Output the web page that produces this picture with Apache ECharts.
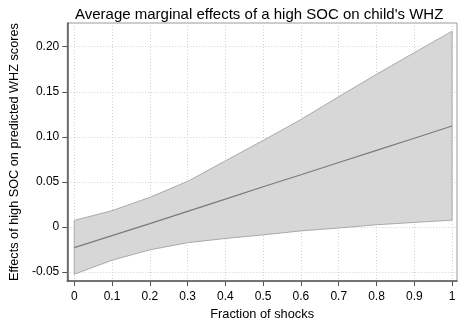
<!DOCTYPE html>
<html>
<head>
<meta charset="utf-8">
<script src="https://cdn.jsdelivr.net/npm/echarts@6/dist/echarts.min.js"></script>
<style>html,body{margin:0;padding:0;background:#fff;}#c{width:465px;height:326px;}</style>
</head>
<body>
<div id="c"></div>
<script>
const fractions = [0, 0.1, 0.2, 0.3, 0.4, 0.5, 0.6, 0.7, 0.8, 0.9, 1];
const effect = [-0.0228, -0.0096, 0.0037, 0.0174, 0.0310, 0.0446, 0.0580, 0.0716, 0.0850, 0.0985, 0.1120];
const upperCI = [0.0073, 0.0181, 0.0329, 0.0506, 0.0734, 0.0960, 0.1193, 0.1445, 0.1694, 0.1934, 0.2172];
const lowerCI = [-0.0524, -0.0369, -0.0253, -0.0174, -0.0127, -0.0087, -0.0043, -0.0011, 0.0025, 0.0051, 0.0076];
const xTicks = [0, 0.1, 0.2, 0.3, 0.4, 0.5, 0.6, 0.7, 0.8, 0.9, 1];
const xTickLabels = ['0', '0.1', '0.2', '0.3', '0.4', '0.5', '0.6', '0.7', '0.8', '0.9', '1'];
const yTicks = [-0.05, 0, 0.05, 0.10, 0.15, 0.20];
const yTickLabels = ['-0.05', '0', '0.05', '0.10', '0.15', '0.20'];

const FONT = 'Liberation Sans, Arial, sans-serif';
const chart = echarts.init(document.getElementById('c'), null, {renderer: 'canvas'});

function labelFor(ticks, labels) {
  return function (v) {
    for (let i = 0; i < ticks.length; i++) {
      if (Math.abs(ticks[i] - v) < 1e-9) return labels[i];
    }
    return '';
  };
}

const bandData = fractions.map((x, i) => [x, lowerCI[i], upperCI[i]]);

chart.setOption({
  animation: false,
  title: {
    text: "Average marginal effects of a high SOC on child's WHZ",
    left: 70, top: 2,
    textStyle: {fontFamily: FONT, fontSize: 15, fontWeight: 'normal', color: '#000'}
  },
  grid: {
    left: 67, right: 8, top: 23, bottom: 39,
    show: true, borderColor: '#9a9a9a', borderWidth: 1, backgroundColor: 'transparent'
  },
  xAxis: {
    type: 'value',
    min: -0.0185, max: 1.013,
    name: 'Fraction of shocks',
    nameLocation: 'middle', nameGap: 22,
    nameTextStyle: {fontFamily: FONT, fontSize: 12.8, color: '#000'},
    axisLine: {show: true, onZero: false, lineStyle: {color: '#555', width: 1.5}},
    axisTick: {show: true, length: 5, customValues: xTicks, lineStyle: {color: '#555'}},
    axisLabel: {customValues: xTicks, formatter: labelFor(xTicks, xTickLabels), margin: 10,
      fontFamily: FONT, fontSize: 12, color: '#000'},
    splitLine: {show: true, lineStyle: {color: '#d0d0d0', type: [1, 2], width: 1}}
  },
  yAxis: {
    type: 'value',
    min: -0.06, max: 0.2263,
    name: 'Effects of high SOC on predicted WHZ scores',
    nameLocation: 'middle', nameGap: 39,
    nameTextStyle: {fontFamily: FONT, fontSize: 12.7, color: '#000'},
    axisLine: {show: true, onZero: false, lineStyle: {color: '#555', width: 1.5}},
    axisTick: {show: true, length: 5, customValues: yTicks, lineStyle: {color: '#555'}},
    axisLabel: {customValues: yTicks, formatter: labelFor(yTicks, yTickLabels), margin: 8,
      fontFamily: FONT, fontSize: 12, color: '#000'},
    splitLine: {show: true, lineStyle: {color: '#d0d0d0', type: [1, 2], width: 1}}
  },
  series: [
    {
      type: 'custom',
      data: bandData,
      encode: {x: 0, y: [1, 2]},
      z: 2,
      renderItem: function (params, api) {
        if (params.dataIndex !== 0) return null;
        const pts = [];
        for (let i = 0; i < bandData.length; i++) pts.push(api.coord([bandData[i][0], bandData[i][2]]));
        for (let i = bandData.length - 1; i >= 0; i--) pts.push(api.coord([bandData[i][0], bandData[i][1]]));
        return {
          type: 'polygon',
          shape: {points: pts},
          style: {fill: '#d7d7d7', stroke: '#a9a9a9', lineWidth: 1}
        };
      }
    },
    {
      type: 'line',
      data: fractions.map((x, i) => [x, effect[i]]),
      symbol: 'none',
      z: 3,
      lineStyle: {color: '#7a7a7a', width: 1.2}
    }
  ]
});
</script>
</body>
</html>
